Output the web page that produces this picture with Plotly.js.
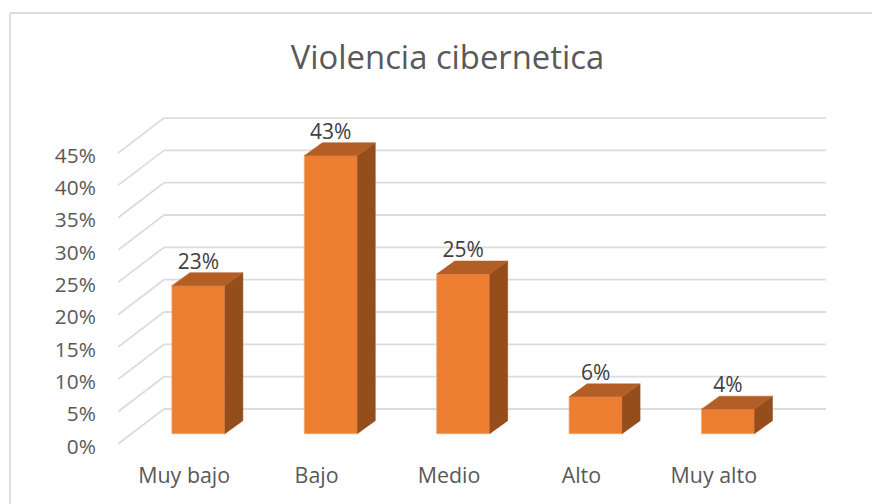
<!DOCTYPE html>
<html>
<head>
<meta charset="utf-8">
<script src="https://cdn.plot.ly/plotly-3.0.1.min.js"></script>
<style>html,body{margin:0;padding:0;background:#fff}#c{width:872px;height:504px}</style>
</head>
<body>
<div id="c"></div>
<script>
const categories = ["Muy bajo", "Bajo", "Medio", "Alto", "Muy alto"];
const values = [22.9, 43, 24.7, 5.7, 3.8];
const valueLabels = ["23%", "43%", "25%", "6%", "4%"];
const yTicks = [0, 5, 10, 15, 20, 25, 30, 35, 40, 45];
const yTickLabels = ["0%", "5%", "10%", "15%", "20%", "25%", "30%", "35%", "40%", "45%"];

// projection of the 3D look, in axis units
const pxPerCat = 132.4, pxPerPct = 6.466;
const wallDx = 46 / pxPerCat, wallDy = 35 / pxPerPct;      // front plane -> back wall
const barShiftX = 14.2 / pxPerCat, barBase = 10.3 / pxPerPct; // front plane -> bar plane
const barW = 53 / pxPerCat, depthX = 18 / pxPerCat, depthY = 13 / pxPerPct;
const labelNudge = 2.5 / pxPerPct; // axis labels sit slightly under their grid line
const valueLabelDrop = 1.5 / pxPerPct;
const xMin = -0.5, xEnd = 4.5 + wallDx;
const idx = categories.map((_, i) => i);
const barX = idx.map(i => i + barShiftX);

const FRONT = "#ed7d31", TOP = "#b25e24", SIDE = "#944d1b", EDGE = "#f3a875", GRID = "#dcdcdc";
const FONT = "'Open Sans', sans-serif";

const shapes = [];
yTicks.forEach(v => {
  shapes.push({type:"line", xref:"x", yref:"y", layer:"below", x0:xMin, y0:v, x1:xMin+wallDx, y1:v+wallDy, line:{color:GRID, width:1.8}});
  shapes.push({type:"line", xref:"x", yref:"y", layer:"below", x0:xMin+wallDx, y0:v+wallDy, x1:xEnd, y1:v+wallDy, line:{color:GRID, width:1.8}});
});
// chart frame: left and top edges only
const W = 712, H = 352, L = 118, T = 100;
const px = p => (p - L) / W, py = p => 1 - (p - T) / H;
shapes.push({type:"line", xref:"paper", yref:"paper", x0:px(10), x1:px(10), y0:py(13), y1:py(504), line:{color:GRID, width:1.8}});
shapes.push({type:"line", xref:"paper", yref:"paper", x0:px(10), x1:px(872), y0:py(13), y1:py(13), line:{color:GRID, width:1.8}});

const traces = [{
  type:"bar", x:barX, y:values, base:values.map(() => barBase), width:barW,
  marker:{color:FRONT, line:{color:EDGE, width:0.8}}, hoverinfo:"skip", showlegend:false
}];
idx.forEach(i => {
  const l = barX[i] - barW/2, r = barX[i] + barW/2, b = barBase, t = barBase + values[i];
  traces.push({type:"scatter", mode:"lines", fill:"toself", fillcolor:SIDE, line:{color:SIDE, width:0.5}, hoverinfo:"skip", showlegend:false,
    x:[r, r+depthX, r+depthX, r, r], y:[b, b+depthY, t+depthY, t, b]});
  traces.push({type:"scatter", mode:"lines", fill:"toself", fillcolor:TOP, line:{color:TOP, width:0.5}, hoverinfo:"skip", showlegend:false,
    x:[l, l+depthX, r+depthX, r, l], y:[t, t+depthY, t+depthY, t, t]});
});
traces.push({type:"scatter", mode:"text", x:barX, y:values.map(v => barBase + v + depthY - valueLabelDrop),
  text:valueLabels, textposition:"top center", textfont:{family:FONT, size:21, color:"#404040"}, hoverinfo:"skip", showlegend:false, cliponaxis:false});

const layout = {
  width:872, height:504, paper_bgcolor:"#fff", plot_bgcolor:"rgba(0,0,0,0)",
  margin:{l:L, r:872-L-W, t:T, b:504-T-H, pad:0},
  showlegend:false, bargap:0,
  title:{text:"Violencia cibernetica", xref:"container", yref:"container", x:447.5/872, xanchor:"center", y:1-58/504, yanchor:"middle",
    font:{family:FONT, size:32.8, color:"#595959"}},
  xaxis:{type:"linear", range:[xMin, xMin + W/pxPerCat], tickmode:"array", tickvals:idx, ticktext:categories,
    showgrid:false, zeroline:false, showline:false, ticks:"outside", ticklen:4, tickcolor:"rgba(0,0,0,0)",
    tickfont:{family:FONT, size:21.4, color:"#595959"}},
  yaxis:{type:"linear", range:[-8/pxPerPct, (444-T)/pxPerPct], tickmode:"array", tickvals:yTicks.map(v => v - labelNudge), ticktext:yTickLabels,
    showgrid:false, zeroline:false, showline:false, ticks:"outside", ticklen:17, tickcolor:"rgba(0,0,0,0)",
    tickfont:{family:FONT, size:20.8, color:"#595959"}},
  shapes:shapes
};
Plotly.newPlot("c", traces, layout, {displayModeBar:false, staticPlot:true});
</script>
</body>
</html>
